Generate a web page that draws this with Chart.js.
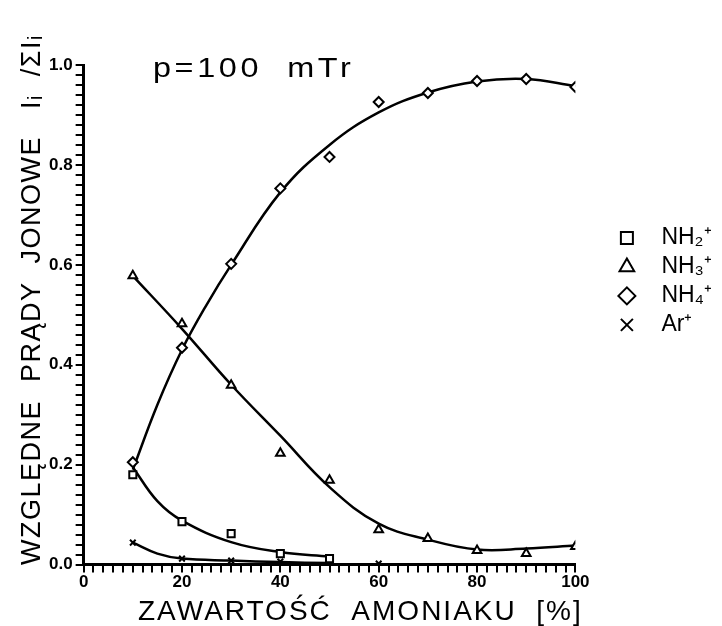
<!DOCTYPE html>
<html>
<head>
<meta charset="utf-8">
<script src="https://cdn.jsdelivr.net/npm/chart.js@4"></script>
<style>
  html, body { margin: 0; padding: 0; background: #fff; }
  #wrap { width: 722px; height: 626px; }
</style>
</head>
<body>
<div id="wrap"><canvas id="ionChart" width="722" height="626"></canvas></div>
<script>
// measured points (NH3 content in %)
var xNH2 = [10, 20, 30, 40, 50];
var yNH2 = [0.18, 0.086, 0.062, 0.022, 0.012];
var xNH3 = [10, 20, 30, 40, 50, 60, 70, 80, 90, 100];
var yNH3 = [0.578, 0.482, 0.359, 0.223, 0.169, 0.070, 0.052, 0.028, 0.022, 0.036];
var xNH4 = [10, 20, 30, 40, 50, 60, 70, 80, 90, 100];
var yNH4 = [0.205, 0.434, 0.602, 0.753, 0.816, 0.926, 0.944, 0.968, 0.972, 0.956];
var xAr = [10, 20, 30, 40, 60];
var yAr = [0.044, 0.012, 0.008, 0.006, 0.002];

// hand-drawn fit curves
var fitXNH4 = [10, 15, 20, 25, 30, 40, 50, 60, 70, 80, 90, 100];
var fitYNH4 = [0.19, 0.32, 0.43, 0.52, 0.60, 0.745, 0.84, 0.905, 0.945, 0.967, 0.972, 0.958];
var fitXNH3 = [10, 20, 30, 40, 50, 60, 70, 80, 90, 100];
var fitYNH3 = [0.578, 0.472, 0.36, 0.258, 0.155, 0.082, 0.05, 0.03, 0.032, 0.038];
var fitXNH2 = [10, 15, 20, 30, 40, 50];
var fitYNH2 = [0.195, 0.127, 0.088, 0.045, 0.025, 0.016];
var fitXAr = [10, 15, 20, 30, 40, 50];
var fitYAr = [0.044, 0.022, 0.012, 0.008, 0.005, 0.003];

var seriesNames = ['NH\u2082\u207A', 'NH\u2083\u207A', 'NH\u2084\u207A', 'Ar\u207A'];
var xTickLabels = [0, 20, 40, 60, 80, 100];
var yTickLabels = ['0.0', '0.2', '0.4', '0.6', '0.8', '1.0'];

function pts(xs, ys) {
    return xs.map(function (x, i) { return { x: x, y: ys[i] }; });
}

function markerSet(label, xs, ys, style) {
    return {
        label: '\u2002' + label,
        data: pts(xs, ys),
        showLine: false,
        pointStyle: style,
        pointRadius: style === 'crossRot' ? 4 : 5,
        borderWidth: 2,
        borderColor: '#000',
        backgroundColor: '#fff'
    };
}

function curveSet(xs, ys) {
    return {
        label: '',
        data: pts(xs, ys),
        showLine: true,
        pointRadius: 0,
        borderWidth: 2.5,
        borderColor: '#000',
        tension: 0.4,
        fill: false
    };
}

var textPlugin = {
    id: 'texts',
    afterDraw: function (chart) {
        var ctx = chart.ctx;
        ctx.save();
        ctx.fillStyle = '#000';
        ctx.textAlign = 'left';
        ctx.textBaseline = 'alphabetic';

        // title inside the plot
        ctx.save();
        ctx.translate(153, 77);
        ctx.scale(1.2, 1);
        ctx.font = '27px "Liberation Sans", Arial, sans-serif';
        ctx.letterSpacing = '3px';
        ctx.fillText('p=100  mTr', 0, 0);
        ctx.restore();

        // x axis title
        ctx.font = '28px "Liberation Sans", Arial, sans-serif';
        ctx.letterSpacing = '2px';
        ctx.fillText('ZAWARTO\u015A\u0106  AMONIAKU  [%]', 138, 620);

        // y axis title, rotated
        ctx.translate(40, 565);
        ctx.rotate(-Math.PI / 2);
        ctx.font = '27px "Liberation Sans", Arial, sans-serif';
        ctx.letterSpacing = '1.5px';
        ctx.fillText('WZGL\u0118DNE  PR\u0104DY  JONOWE   I\u1D62  /\u03A3I\u1D62', 0, 0);
        ctx.restore();
    }
};

var ctx = document.getElementById('ionChart').getContext('2d');
var ionChart = new Chart(ctx, {
    type: 'scatter',
    data: {
        datasets: [
            markerSet(seriesNames[0], xNH2, yNH2, 'rect'),
            markerSet(seriesNames[1], xNH3, yNH3, 'triangle'),
            markerSet(seriesNames[2], xNH4, yNH4, 'rectRot'),
            markerSet(seriesNames[3], xAr, yAr, 'crossRot'),
            curveSet(fitXNH4, fitYNH4),
            curveSet(fitXNH3, fitYNH3),
            curveSet(fitXNH2, fitYNH2),
            curveSet(fitXAr, fitYAr)
        ]
    },
    options: {
        responsive: false,
        animation: false,
        layout: {
            padding: { left: 46, top: 65, right: 0, bottom: 33 }
        },
        plugins: {
            tooltip: { enabled: false },
            legend: {
                display: true,
                position: 'right',
                align: 'start',
                title: {
                    display: true,
                    text: '',
                    padding: { top: 141, bottom: 0 }
                },
                labels: {
                    usePointStyle: true,
                    boxWidth: 23,
                    boxHeight: 12,
                    padding: 6,
                    color: '#000',
                    font: { size: 23, family: '"Liberation Sans", Arial, sans-serif' },
                    filter: function (item) { return item.text !== ''; }
                }
            }
        },
        scales: {
            x: {
                type: 'linear',
                min: 0,
                max: 100,
                border: { color: '#000', width: 3 },
                grid: {
                    drawOnChartArea: false,
                    drawTicks: true,
                    tickLength: 8,
                    color: '#000',
                    lineWidth: 2
                },
                ticks: {
                    stepSize: 2,
                    autoSkip: false,
                    maxRotation: 0,
                    padding: 0,
                    color: '#000',
                    font: { size: 17, weight: 'bold', family: '"Liberation Sans", Arial, sans-serif' },
                    callback: function (v) {
                        var i = xTickLabels.indexOf(Math.round(v));
                        return (Math.abs(v - Math.round(v)) < 1e-6 && i >= 0) ? String(xTickLabels[i]) : '';
                    }
                }
            },
            y: {
                type: 'linear',
                min: 0,
                max: 1,
                border: { color: '#000', width: 3 },
                grid: {
                    drawOnChartArea: false,
                    drawTicks: true,
                    tickLength: 8,
                    color: '#000',
                    lineWidth: 2
                },
                ticks: {
                    stepSize: 0.02,
                    autoSkip: false,
                    padding: 3,
                    color: '#000',
                    font: { size: 17, weight: 'bold', family: '"Liberation Sans", Arial, sans-serif' },
                    callback: function (v) {
                        var n = Math.round(v * 50);
                        return n % 10 === 0 ? yTickLabels[n / 10] : '';
                    }
                }
            },
            // empty spacer between the plot and the legend
            gap: {
                type: 'linear',
                position: 'right',
                min: 0,
                max: 1,
                grid: { display: false },
                border: { display: false },
                ticks: { display: false },
                afterFit: function (scale) { scale.width = 34; }
            }
        }
    },
    plugins: [textPlugin]
});
</script>
</body>
</html>
